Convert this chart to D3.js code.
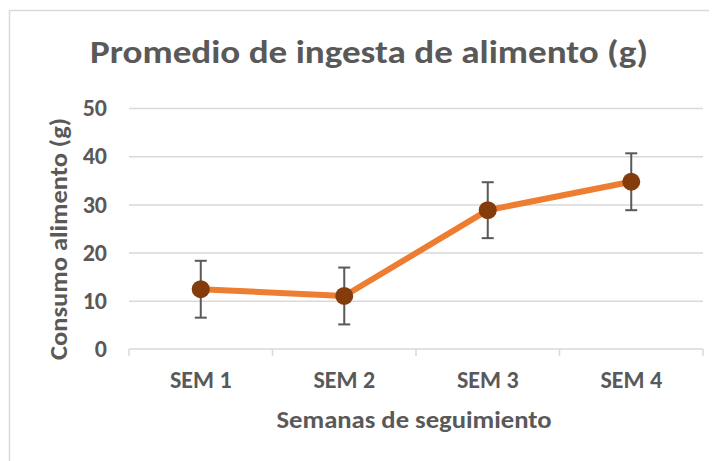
<!DOCTYPE html>
<html>
<head>
<meta charset="utf-8">
<script src="https://cdn.jsdelivr.net/npm/d3@7"></script>
<style>
  body { margin: 0; background: #fff; }
  svg text { font-family: Calibri, Carlito, "Open Sans", sans-serif; font-weight: bold; fill: #595959; }
</style>
</head>
<body>
<div id="chart"></div>
<script>
var weeks = ['SEM 1', 'SEM 2', 'SEM 3', 'SEM 4'];
var intake = [12.4, 11.0, 28.8, 34.7];
var errs = [5.9, 5.9, 5.8, 5.9];
var yTicks = [0, 10, 20, 30, 40, 50];

var W = 719, H = 461;
var svg = d3.select('#chart').append('svg').attr('width', W).attr('height', H);

// chart frame (only top and left edges show in the picture)
svg.append('path').attr('d', 'M9.5,461 V10.5 H709').attr('fill', 'none').attr('stroke', '#d9d9d9').attr('stroke-width', 1.5);

var x = d3.scaleBand().domain(weeks).range([129, 703]).padding(0);
var y = d3.scaleLinear().domain([0, 50]).range([349, 108]);

// gridlines + y labels
var yAxis = svg.append('g').attr('transform', 'translate(129,0)')
  .call(d3.axisLeft(y).tickValues(yTicks).tickSize(-(703 - 129)).tickPadding(22));
yAxis.select('.domain').remove();
yAxis.selectAll('.tick line').attr('stroke', '#d9d9d9').attr('stroke-width', 1.5);
yAxis.selectAll('.tick text').attr('font-size', '24px').attr('dy', '0.32em');
yAxis.select('.tick:first-of-type line').remove();

// x axis
var xAxis = svg.append('g').attr('transform', 'translate(0,349)')
  .call(d3.axisBottom(x).tickSize(0).tickPadding(39));
xAxis.select('.domain').attr('stroke', '#d9d9d9').attr('stroke-width', 1.5).attr('d', 'M129,0H703');
xAxis.selectAll('.tick text').attr('font-size', '24px').attr('dy', '0');
xAxis.selectAll('line.sep').data(d3.range(weeks.length + 1)).enter().append('line')
  .attr('class', 'sep')
  .attr('x1', function(i){ return x.range()[0] + i * x.step(); })
  .attr('x2', function(i){ return x.range()[0] + i * x.step(); })
  .attr('y1', 0).attr('y2', 7)
  .attr('stroke', '#d9d9d9').attr('stroke-width', 1.5);

var pts = weeks.map(function(w, i){ return {w: w, v: intake[i], e: errs[i]}; });
function cx(d){ return x(d.w) + x.bandwidth() / 2; }

// line
var line = d3.line().x(cx).y(function(d){ return y(d.v); });
svg.append('path').datum(pts).attr('d', line)
  .attr('fill', 'none').attr('stroke', '#ED7D31').attr('stroke-width', 6).attr('stroke-linejoin', 'round');

// error bars
var eb = svg.append('g').attr('stroke', '#595959').attr('stroke-width', 2);
pts.forEach(function(d){
  var c = cx(d);
  eb.append('line').attr('x1', c).attr('x2', c).attr('y1', y(d.v + d.e)).attr('y2', y(d.v - d.e));
  eb.append('line').attr('x1', c - 6).attr('x2', c + 6).attr('y1', y(d.v + d.e)).attr('y2', y(d.v + d.e));
  eb.append('line').attr('x1', c - 6).attr('x2', c + 6).attr('y1', y(d.v - d.e)).attr('y2', y(d.v - d.e));
});

// markers
svg.selectAll('circle.pt').data(pts).enter().append('circle')
  .attr('class', 'pt').attr('cx', cx).attr('cy', function(d){ return y(d.v); })
  .attr('r', 9).attr('fill', '#843C0C');

// titles
svg.append('text').attr('x', 369).attr('y', 63).attr('text-anchor', 'middle')
  .attr('font-size', '33px').attr('textLength', 558).attr('lengthAdjust', 'spacingAndGlyphs')
  .text('Promedio de ingesta de alimento (g)');
svg.append('text').attr('x', 414).attr('y', 428).attr('text-anchor', 'middle')
  .attr('font-size', '24px').attr('textLength', 275).attr('lengthAdjust', 'spacingAndGlyphs')
  .text('Semanas de seguimiento');
svg.append('text').attr('transform', 'translate(67,239) rotate(-90)').attr('text-anchor', 'middle')
  .attr('font-size', '24px').attr('textLength', 242).attr('lengthAdjust', 'spacingAndGlyphs')
  .text('Consumo alimento (g)');
</script>
</body>
</html>
